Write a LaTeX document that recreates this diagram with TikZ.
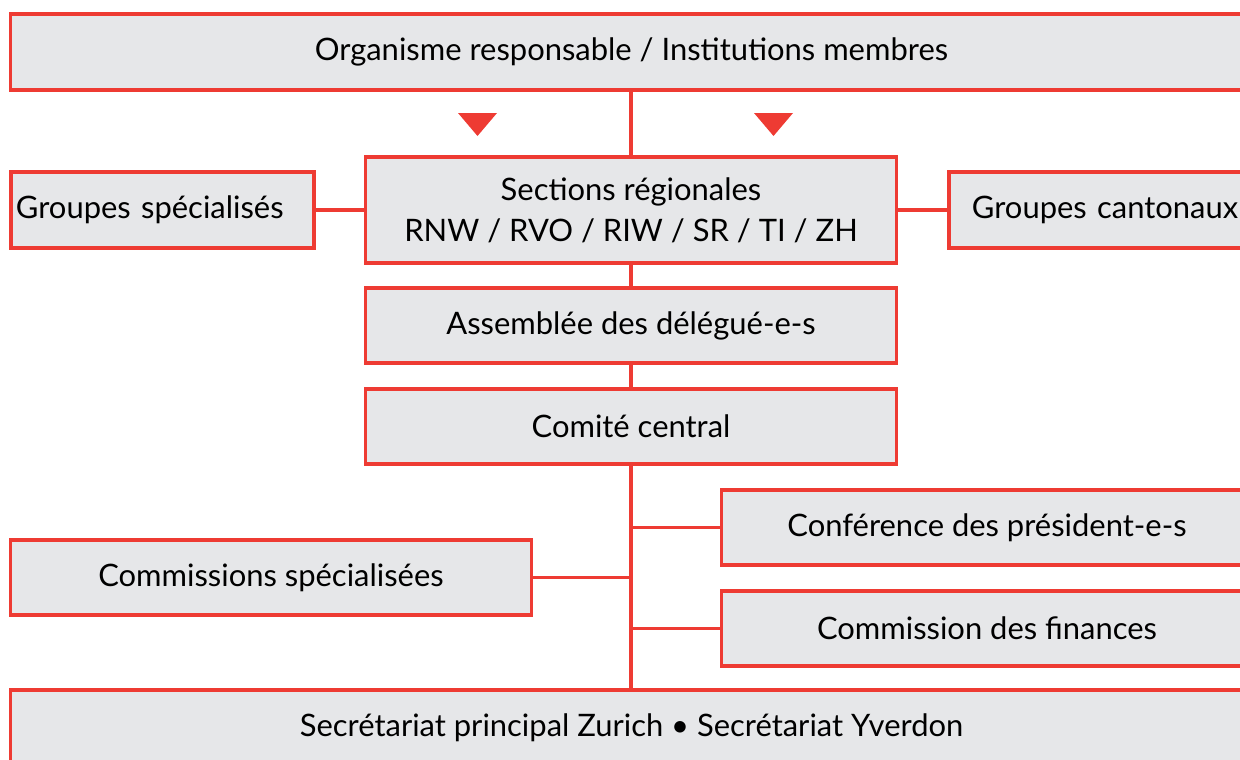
\documentclass[tikz,border=0pt]{standalone}
\usepackage{fontspec}
\setmainfont{Lato}
\definecolor{orgred}{RGB}{238,59,51}
\definecolor{orggray}{RGB}{230,231,233}

\begin{document}
\begin{tikzpicture}[x=0.025cm, y=-0.025cm]
				\tikzstyle{every node}=[inner sep=1pt, align=center]
				\tikzstyle{orgbox}=[draw=orgred, fill=orggray, line width=2.2pt, rectangle, font=\fontsize{22}{29}\selectfont, minimum height=1.9cm]
				\tikzstyle{link}=[draw=orgred, line width=2.2pt]
				\clip (0, 0) rectangle (1240, 759);
				\node [orgbox, minimum width=31.025cm] (top) at (631.5, 52) {Organisme responsable / Institutions membres};
				\node [orgbox, minimum width=13.25cm, minimum height=2.65cm] (sect) at (631, 210) {Sections régionales\\RNW / RVO / RIW / SR / TI / ZH};
				\node [orgbox, minimum width=7.575cm, text width=7.325cm, align=left] (gspec) at (162.5, 210) {\mbox{Groupes spécialisés}};
				\node [orgbox, minimum width=7.575cm, text width=6.425cm, align=left] (gcant) at (1100.5, 210) {\mbox{Groupes cantonaux}};
				\node [orgbox, minimum width=13.25cm, minimum height=1.875cm] (deleg) at (631, 325.5) {Assemblée des délégué-e-s};
				\node [orgbox, minimum width=13.25cm, minimum height=1.875cm] (comite) at (631, 426.5) {Comité central};
				\node [orgbox, minimum width=13.25cm, minimum height=1.875cm] (presid) at (987, 527.5) {Conférence des président-e-s};
				\node [orgbox, minimum width=13.25cm, minimum height=1.875cm] (finances) at (987, 628.5) {Commission des finances};
				\node [orgbox, minimum width=13cm, minimum height=1.875cm] (cspec) at (271, 577.5) {Commissions spécialisées};
				\node [orgbox, minimum width=31.025cm] (secr) at (631.5, 728) {Secrétariat principal Zurich \textbullet\ Secrétariat Yverdon};
				\fill [orgred] (458, 113) -- (497, 113) -- (477.5, 136) -- cycle;
				\fill [orgred] (754, 113) -- (793, 113) -- (773.5, 136) -- cycle;
				\draw [link] (sect.north) -- (sect.north |- top.south);
				\draw [link] (gspec) -- (sect);
				\draw [link] (sect) -- (gcant);
				\draw [link] (sect) -- (deleg);
				\draw [link] (deleg) -- (comite);
				\draw [link] (comite.south) -- (secr.north -| comite.south);
				\draw [link] (comite.south |- presid.west) -- (presid.west);
				\draw [link] (comite.south |- finances.west) -- (finances.west);
				\draw [link] (cspec.east) -- (cspec.east -| comite.south);
		\end{tikzpicture}
\end{document}
